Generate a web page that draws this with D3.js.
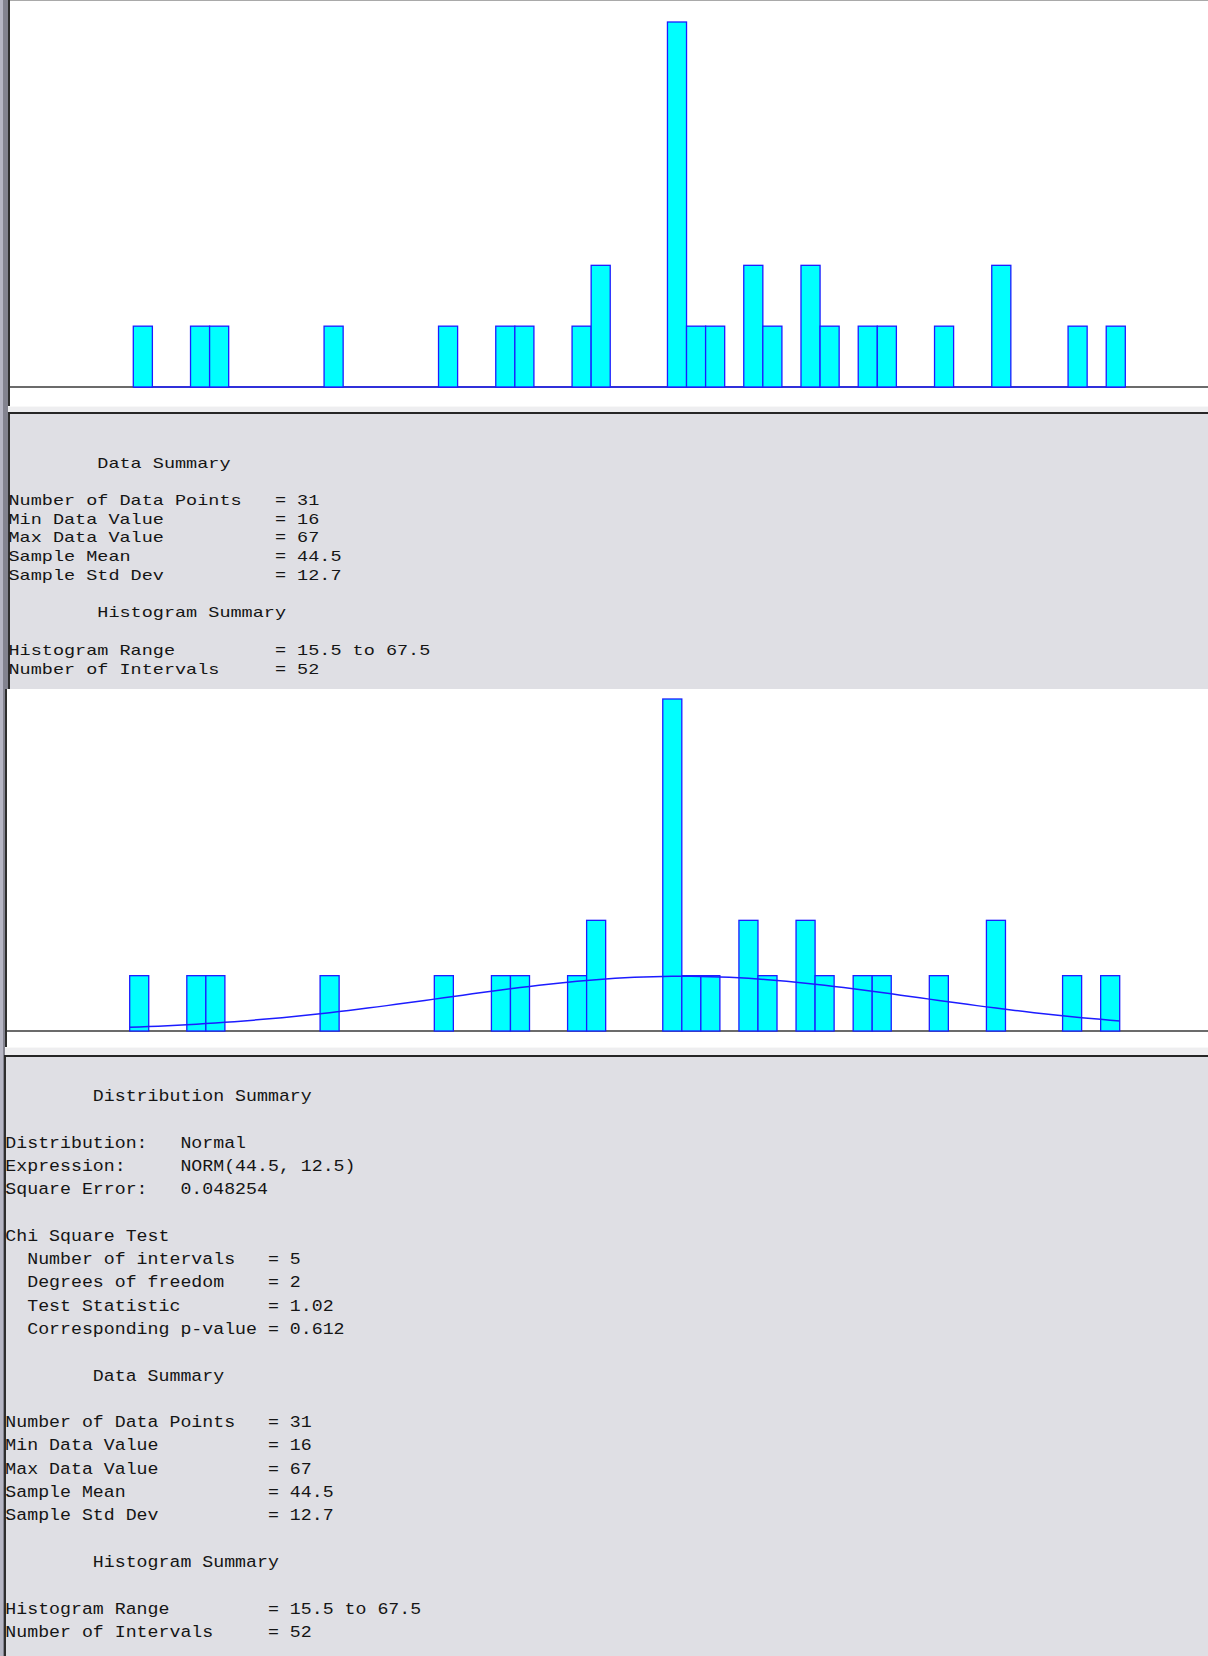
<!DOCTYPE html>
<html>
<head>
<meta charset="utf-8">
<script src="https://cdn.jsdelivr.net/npm/d3@7"></script>
<style>
  html, body { margin: 0; padding: 0; background: #ffffff; }
  svg { display: block; }
  text { font-family: "Liberation Mono", "DejaVu Sans Mono", monospace; white-space: pre; fill: #151515; }
</style>
</head>
<body>
<svg id="chart" width="1208" height="1656"></svg>
<script>
// Histogram intervals (midpoints, width 1) and the number of observations in each
const binCenters = [16, 19, 20, 26, 32, 35, 36, 39, 40, 44, 45, 46, 48, 49, 51, 52, 54, 55, 58, 61, 65, 67];
const binCounts  = [1, 1, 1, 1, 1, 1, 1, 1, 2, 6, 1, 1, 2, 1, 2, 1, 1, 1, 1, 2, 1, 1];
const histRange  = [15.5, 67.5];

// Fitted distribution: NORM(44.5, 12.5) over 31 observations
const fitMean = 44.5;
const fitSd = 12.5;
const fitN = 31;

// Report text
const dataLabels = ["Number of Data Points", "Min Data Value", "Max Data Value", "Sample Mean", "Sample Std Dev"];
const dataValues = ["31", "16", "67", "44.5", "12.7"];
const histLabels = ["Histogram Range", "Number of Intervals"];
const histValues = ["15.5 to 67.5", "52"];
const distLabels = ["Distribution:", "Expression:", "Square Error:"];
const distValues = ["Normal", "NORM(44.5, 12.5)", "0.048254"];
const chiLabels  = ["Number of intervals", "Degrees of freedom", "Test Statistic", "Corresponding p-value"];
const chiValues  = ["5", "2", "1.02", "0.612"];

const W = 1208, H = 1656;
const svg = d3.select("#chart");

const PANEL_GREY = "#dfdfe4";
const BAR_FILL = "#00ffff";
const BAR_LINE = "#1c1cff";

// ---- window chrome: left frame strip ----
svg.append("rect").attr("x", 0).attr("y", 0).attr("width", W).attr("height", H).attr("fill", "#ffffff");
svg.append("rect").attr("x", 0).attr("y", 0).attr("width", 3).attr("height", H).attr("fill", "#b6b6c4");
svg.append("rect").attr("x", 3).attr("y", 0).attr("width", 5).attr("height", H).attr("fill", "#83838f");

// ---- panel frames ----
function plotFrame(y0, y1, left) {
  svg.append("rect").attr("x", left - 2).attr("y", y0).attr("width", 2).attr("height", y1 - y0).attr("fill", "#2e2e2e");
  svg.append("rect").attr("x", left).attr("y", y0).attr("width", W - left).attr("height", y1 - y0).attr("fill", "#ffffff");
}
function textFrame(y0, y1, left) {
  svg.append("rect").attr("x", left - 2).attr("y", y0).attr("width", W - left + 2).attr("height", y1 - y0).attr("fill", PANEL_GREY);
  svg.append("rect").attr("x", left - 2).attr("y", y0).attr("width", 2).attr("height", y1 - y0).attr("fill", "#2e2e2e");
  svg.append("rect").attr("x", left - 2).attr("y", y0).attr("width", W - left + 2).attr("height", 2).attr("fill", "#262626");
}
function separator(y0, y1, left) {
  svg.append("rect").attr("x", left - 2).attr("y", y0).attr("width", W - left + 2).attr("height", y1 - y0).attr("fill", "#eeeef0");
  svg.append("rect").attr("x", left - 2).attr("y", y0).attr("width", W - left + 2).attr("height", 1).attr("fill", "#f8f8f8");
}

// top plot
plotFrame(0, 406, 10);
svg.append("rect").attr("x", 10).attr("y", 0).attr("width", W - 10).attr("height", 1).attr("fill", "#a9a9a9");
separator(406, 412, 10);
// first report
textFrame(412, 689, 10);
// second plot
plotFrame(689, 1047, 7);
separator(1047, 1055, 7);
// second report
textFrame(1055, H, 6);

// ---- histogram drawing ----
function histogram(opt) {
  const x = d3.scaleLinear().domain(histRange).range(opt.xRange);
  const y = d3.scaleLinear().domain([0, d3.max(binCounts)]).range(opt.yRange);
  const g = svg.append("g");

  // horizontal base axis
  g.append("line")
    .attr("x1", opt.left).attr("x2", W)
    .attr("y1", y(0)).attr("y2", y(0))
    .attr("stroke", "#3a3a3a").attr("stroke-width", 1.3);

  if (opt.emptyBinsLine) {
    // empty intervals are outlined along the base
    g.append("line")
      .attr("x1", x(histRange[0])).attr("x2", x(histRange[1]))
      .attr("y1", y(0)).attr("y2", y(0))
      .attr("stroke", BAR_LINE).attr("stroke-width", 1.3);
  }

  const data = binCenters.map((c, i) => ({ c, n: binCounts[i] }));
  g.selectAll("rect.bar")
    .data(data)
    .join("rect")
    .attr("class", "bar")
    .attr("x", d => x(d.c - 0.5))
    .attr("width", d => x(d.c + 0.5) - x(d.c - 0.5))
    .attr("y", d => y(d.n))
    .attr("height", d => y(0) - y(d.n))
    .attr("fill", BAR_FILL)
    .attr("stroke", BAR_LINE)
    .attr("stroke-width", 1.3);

  if (opt.fit) {
    // expected count per unit interval under the fitted normal
    const dens = v => fitN * Math.exp(-0.5 * Math.pow((v - fitMean) / fitSd, 2)) / (fitSd * Math.sqrt(2 * Math.PI));
    const pts = d3.range(histRange[0], histRange[1] + 1e-9, 0.5);
    g.append("path")
      .datum(pts)
      .attr("fill", "none")
      .attr("stroke", BAR_LINE)
      .attr("stroke-width", 1.5)
      .attr("d", d3.line().x(v => x(v)).y(v => y(dens(v))));
  }
}

histogram({ xRange: [133.3, 1125.3], yRange: [387, 22], left: 10, emptyBinsLine: true, fit: false });
histogram({ xRange: [129.7, 1119.7], yRange: [1031, 699], left: 7, emptyBinsLine: false, fit: true });

// ---- report text ----
const dataBlock = [
  "        Data Summary",
  "",
  ...dataLabels.map((l, i) => l.padEnd(24) + "= " + dataValues[i]),
  "",
  "        Histogram Summary",
  "",
  ...histLabels.map((l, i) => l.padEnd(24) + "= " + histValues[i])
];
const distBlock = [
  "        Distribution Summary",
  "",
  ...distLabels.map((l, i) => l.padEnd(16) + distValues[i]),
  "",
  "Chi Square Test",
  ...chiLabels.map((l, i) => ("  " + l).padEnd(24) + "= " + chiValues[i]),
  "",
  ...dataBlock
];

function report(lines, cfg) {
  const g = svg.append("g");
  lines.forEach((s, i) => {
    if (!s) return;
    g.append("text")
      .attr("transform", `translate(${cfg.x0},${cfg.y0 + i * cfg.lh + cfg.base}) scale(1,${cfg.sy})`)
      .attr("font-size", cfg.fs)
      .text(s);
  });
}

report(dataBlock, { x0: 8.5, y0: 462.3, lh: 18.73, base: 5.2, fs: 18.5, sy: 0.8 });
report(distBlock, { x0: 5.3, y0: 1095, lh: 23.3, base: 5.9, fs: 18.25, sy: 0.93 });
</script>
</body>
</html>
